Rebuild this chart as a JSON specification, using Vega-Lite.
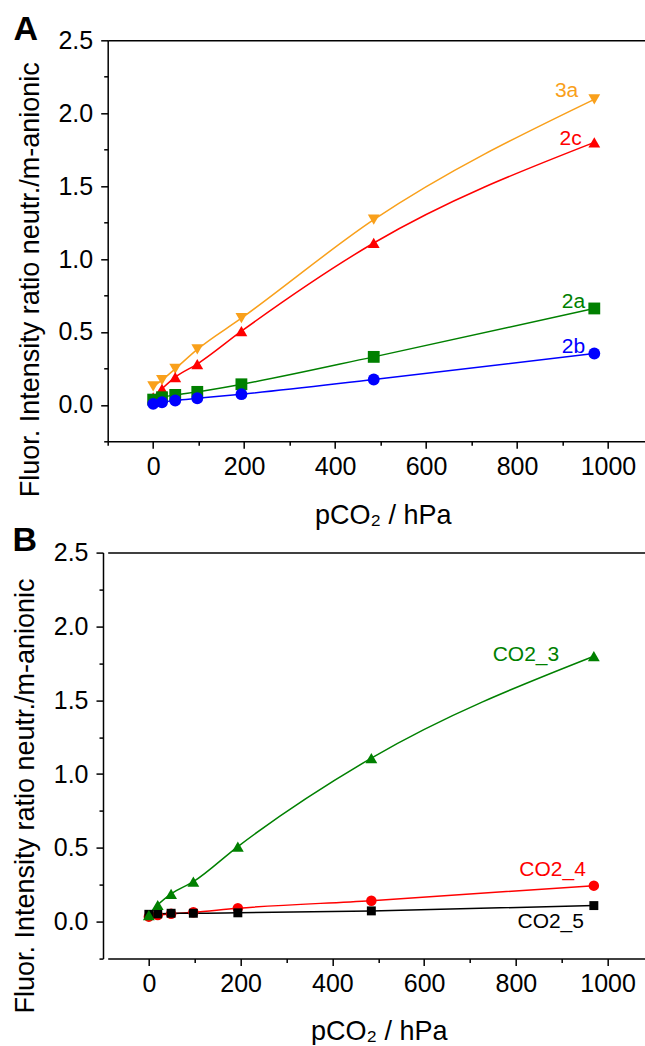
{
  "$schema": "https://vega.github.io/schema/vega-lite/v6.json",
  "padding": {"left": 11.7, "top": 12.3, "right": 0, "bottom": 0},
  "autosize": {"type": "pad"},
  "background": "white",
  "columns": 1,
  "align": "none",
  "spacing": -4.7,
  "resolve": {"scale": {"color": "independent", "shape": "independent", "size": "independent", "x": "independent", "y": "independent"}},
  "config": {
    "font": "Liberation Sans",
    "view": {"stroke": null},
    "axis": {
      "labelFont": "Liberation Sans", "labelFontSize": 25, "labelColor": "#000",
      "titleFont": "Liberation Sans", "titleFontSize": 27, "titleFontWeight": "normal", "titleColor": "#000",
      "domainColor": "#000", "domainWidth": 1.5, "tickColor": "#000", "tickWidth": 1.5,
      "grid": false, "labelFlush": false
    }
  },
  "datasets": {
    "A": [
      {"series": "3a", "x": 0, "y": 0.126}, {"series": "3a", "x": 19.4, "y": 0.17}, {"series": "3a", "x": 48.5, "y": 0.247}, {"series": "3a", "x": 97, "y": 0.38}, {"series": "3a", "x": 194, "y": 0.594}, {"series": "3a", "x": 485, "y": 1.27}, {"series": "3a", "x": 970, "y": 2.095},
      {"series": "2c", "x": 0, "y": 0.052}, {"series": "2c", "x": 19.4, "y": 0.11}, {"series": "2c", "x": 48.5, "y": 0.19}, {"series": "2c", "x": 97, "y": 0.28}, {"series": "2c", "x": 194, "y": 0.505}, {"series": "2c", "x": 485, "y": 1.11}, {"series": "2c", "x": 970, "y": 1.8},
      {"series": "2a", "x": 0, "y": 0.036}, {"series": "2a", "x": 19.4, "y": 0.052}, {"series": "2a", "x": 48.5, "y": 0.068}, {"series": "2a", "x": 97, "y": 0.089}, {"series": "2a", "x": 194, "y": 0.141}, {"series": "2a", "x": 485, "y": 0.329}, {"series": "2a", "x": 970, "y": 0.661},
      {"series": "2b", "x": 0, "y": 0.007}, {"series": "2b", "x": 19.4, "y": 0.018}, {"series": "2b", "x": 48.5, "y": 0.03}, {"series": "2b", "x": 97, "y": 0.045}, {"series": "2b", "x": 194, "y": 0.073}, {"series": "2b", "x": 485, "y": 0.174}, {"series": "2b", "x": 970, "y": 0.352}
    ],
    "B": [
      {"series": "CO2_4", "x": 0, "y": 0.034}, {"series": "CO2_4", "x": 19.4, "y": 0.045}, {"series": "CO2_4", "x": 48.5, "y": 0.053}, {"series": "CO2_4", "x": 97, "y": 0.064}, {"series": "CO2_4", "x": 194, "y": 0.091}, {"series": "CO2_4", "x": 485, "y": 0.142}, {"series": "CO2_4", "x": 970, "y": 0.244},
      {"series": "CO2_5", "x": 0, "y": 0.05}, {"series": "CO2_5", "x": 19.4, "y": 0.053}, {"series": "CO2_5", "x": 48.5, "y": 0.057}, {"series": "CO2_5", "x": 97, "y": 0.057}, {"series": "CO2_5", "x": 194, "y": 0.06}, {"series": "CO2_5", "x": 485, "y": 0.073}, {"series": "CO2_5", "x": 970, "y": 0.109},
      {"series": "CO2_3", "x": 0, "y": 0.045}, {"series": "CO2_3", "x": 19.4, "y": 0.113}, {"series": "CO2_3", "x": 48.5, "y": 0.188}, {"series": "CO2_3", "x": 97, "y": 0.271}, {"series": "CO2_3", "x": 194, "y": 0.509}, {"series": "CO2_3", "x": 485, "y": 1.108}, {"series": "CO2_3", "x": 970, "y": 1.798}
    ],
    "labA": [
      {"series": "3a", "x": 909, "y": 2.152}, {"series": "2c", "x": 918, "y": 1.826}, {"series": "2a", "x": 924, "y": 0.704}, {"series": "2b", "x": 924, "y": 0.4}
    ],
    "labB": [
      {"series": "CO2_3", "x": 822, "y": 1.809}, {"series": "CO2_4", "x": 880, "y": 0.351}, {"series": "CO2_5", "x": 876, "y": 0.0}
    ]
  },
  "concat": [
    {
      "width": 538,
      "height": 401,
      "title": {"text": "A", "anchor": "start", "frame": "group", "orient": "top", "fontSize": 34, "fontWeight": "bold", "font": "Liberation Sans", "color": "#000", "dx": -94.3, "offset": -45.6, "baseline": "alphabetic"},
      "resolve": {"axis": {"x": "independent", "y": "independent"}},
      "layer": [
        {
          "data": {"name": "A"},
          "mark": {"type": "line", "interpolate": "monotone", "strokeWidth": 1.5},
          "encoding": {
            "x": {"field": "x", "type": "quantitative", "scale": {"domain": [-100, 1083], "nice": false, "zero": false},
              "axis": {"orient": "bottom", "values": [0, 200, 400, 600, 800, 1000], "format": "d", "tickSize": 7, "labelPadding": 6, "title": "pCO₂ / hPa", "titleX": 275, "titleY": 82, "titleBaseline": "alphabetic", "titleAlign": "center"}},
            "y": {"field": "y", "type": "quantitative", "scale": {"domain": [-0.25, 2.5], "nice": false, "zero": false},
              "axis": {"orient": "left", "values": [0, 0.5, 1, 1.5, 2, 2.5], "format": ".1f", "tickSize": 7, "labelPadding": 8, "title": "Fluor. Intensity ratio neutr./m-anionic", "titleAngle": -90, "titleX": -69, "titleY": 239, "titleBaseline": "alphabetic", "titleAlign": "center"}},
            "color": {"field": "series", "type": "nominal", "scale": {"domain": ["3a", "2c", "2a", "2b"], "range": ["#F9A01B", "#FF0000", "#008000", "#0000FF"]}, "legend": null}
          }
        },
        {
          "data": {"name": "A"},
          "mark": {"type": "point", "filled": true, "opacity": 1, "strokeWidth": 0},
          "encoding": {
            "x": {"field": "x", "type": "quantitative", "axis": {"orient": "bottom", "values": [-100, 100, 300, 500, 700, 900], "labels": false, "domain": false, "tickSize": 4, "title": null}},
            "y": {"field": "y", "type": "quantitative", "axis": {"orient": "left", "values": [-0.25, 0.25, 0.75, 1.25, 1.75, 2.25], "labels": false, "domain": false, "tickSize": 4, "title": null}},
            "color": {"field": "series", "type": "nominal", "legend": null},
            "shape": {"field": "series", "type": "nominal", "scale": {"domain": ["3a", "2c", "2a", "2b"], "range": ["triangle-down", "triangle-up", "square", "circle"]}, "legend": null},
            "size": {"field": "series", "type": "nominal", "scale": {"domain": ["3a", "2c", "2a", "2b"], "range": [140, 140, 80, 80]}, "legend": null}
          }
        },
        {
          "data": {"name": "labA"},
          "mark": {"type": "text", "fontSize": 21, "align": "center", "baseline": "middle", "font": "Liberation Sans"},
          "encoding": {
            "x": {"field": "x", "type": "quantitative", "axis": {"orient": "top", "labels": false, "ticks": false, "domain": true, "title": null}},
            "y": {"field": "y", "type": "quantitative", "axis": null},
            "text": {"field": "series"},
            "color": {"field": "series", "type": "nominal", "legend": null}
          }
        }
      ]
    },
    {
      "width": 538,
      "height": 406,
      "title": {"text": "B", "anchor": "start", "frame": "group", "orient": "top", "fontSize": 34, "fontWeight": "bold", "font": "Liberation Sans", "color": "#000", "dx": -95.3, "offset": -44.5, "baseline": "alphabetic"},
      "resolve": {"axis": {"x": "independent", "y": "independent"}},
      "layer": [
        {
          "data": {"name": "B"},
          "mark": {"type": "line", "interpolate": "monotone", "strokeWidth": 1.5},
          "encoding": {
            "x": {"field": "x", "type": "quantitative", "scale": {"domain": [-89.7, 1083], "nice": false, "zero": false},
              "axis": {"orient": "bottom", "values": [0, 200, 400, 600, 800, 1000], "format": "d", "tickSize": 7, "labelPadding": 6, "title": "pCO₂ / hPa", "titleX": 271, "titleY": 81, "titleBaseline": "alphabetic", "titleAlign": "center"}},
            "y": {"field": "y", "type": "quantitative", "scale": {"domain": [-0.25, 2.5], "nice": false, "zero": false},
              "axis": {"orient": "left", "offset": 4.7, "values": [0, 0.5, 1, 1.5, 2, 2.5], "format": ".1f", "tickSize": 7, "labelPadding": 8, "title": "Fluor. Intensity ratio neutr./m-anionic", "titleAngle": -90, "titleX": -69, "titleY": 243, "titleBaseline": "alphabetic", "titleAlign": "center"}},
            "color": {"field": "series", "type": "nominal", "scale": {"domain": ["CO2_3", "CO2_4", "CO2_5"], "range": ["#008000", "#FF0000", "#000000"]}, "legend": null}
          }
        },
        {
          "data": {"name": "B"},
          "mark": {"type": "point", "filled": true, "opacity": 1, "strokeWidth": 0},
          "encoding": {
            "x": {"field": "x", "type": "quantitative", "axis": {"orient": "bottom", "values": [-100, 100, 300, 500, 700, 900], "labels": false, "domain": false, "tickSize": 4, "title": null}},
            "y": {"field": "y", "type": "quantitative", "axis": {"orient": "left", "offset": 4.7, "values": [-0.25, 0.25, 0.75, 1.25, 1.75, 2.25], "labels": false, "domain": false, "tickSize": 4, "title": null}},
            "color": {"field": "series", "type": "nominal", "legend": null},
            "shape": {"field": "series", "type": "nominal", "scale": {"domain": ["CO2_3", "CO2_4", "CO2_5"], "range": ["triangle-up", "circle", "square"]}, "legend": null},
            "size": {"field": "series", "type": "nominal", "scale": {"domain": ["CO2_3", "CO2_4", "CO2_5"], "range": [140, 80, 80]}, "legend": null}
          }
        },
        {
          "data": {"name": "labB"},
          "mark": {"type": "text", "fontSize": 21, "align": "center", "baseline": "middle", "font": "Liberation Sans"},
          "encoding": {
            "x": {"field": "x", "type": "quantitative", "axis": {"orient": "top", "labels": false, "ticks": false, "domain": true, "title": null}},
            "y": {"field": "y", "type": "quantitative", "axis": null},
            "text": {"field": "series"},
            "color": {"field": "series", "type": "nominal", "legend": null}
          }
        }
      ]
    }
  ]
}
